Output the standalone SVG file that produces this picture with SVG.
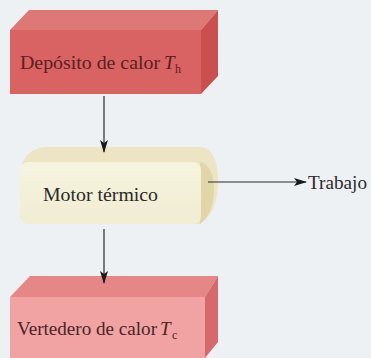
<svg xmlns="http://www.w3.org/2000/svg" width="371" height="358" viewBox="0 0 371 358">
<defs>
<style>
text{font-family:'Liberation Serif','DejaVu Serif','Times New Roman',serif;font-size:19px;}
.sub{font-size:12px;}
.conn{stroke:#2a2a2a;stroke-width:1.2;fill:none;}
</style>
<marker id="ah" markerWidth="13" markerHeight="8" refX="12" refY="4" orient="auto" markerUnits="userSpaceOnUse">
<path d="M0,0 L13,4 L0,8 L3,4 Z" fill="#1a1a1a"/>
</marker>
<linearGradient id="engFront" x1="0" y1="0" x2="0" y2="1">
<stop offset="0" stop-color="#f6f3df"/>
<stop offset="1" stop-color="#f1edd3"/>
</linearGradient>
</defs>
<rect width="371" height="358" fill="#eef1f4"/>
<g id="hot">
<polygon points="10,30 29,10 218,10 201,30" fill="#de7877"/>
<polygon points="201,30 218,10 218,76 201,94" fill="#c9504f"/>
<rect x="10" y="30" width="191" height="64" fill="#d86362"/>
<text x="20" y="69" fill="#5a2020" textLength="140" lengthAdjust="spacingAndGlyphs">Depósito de calor</text>
<text x="164" y="69" fill="#5a2020" font-style="italic">T</text>
<text class="sub" x="175" y="73" fill="#5a2020">h</text>
</g>
<g id="engine">
<path d="M20,176 Q21,150 45,147 L202,147 Q218,150 218,182 Q218,212 200,224 L30,224 Q20,222 20,212 Z" fill="#ece4c2"/>
<path d="M200,162 Q214,166 214,190 Q213,214 200,224 Z" fill="#e2d6a8"/>
<rect x="20" y="162" width="181" height="62" rx="8" fill="url(#engFront)"/>
<text x="43" y="201" fill="#2a2a2a" textLength="115" lengthAdjust="spacingAndGlyphs">Motor térmico</text>
</g>
<g id="work">
<text x="308" y="189" fill="#2a2a2a" textLength="59" lengthAdjust="spacingAndGlyphs">Trabajo</text>
</g>
<g id="cold">
<polygon points="10,297 30,276 218,276 205,297" fill="#e58687"/>
<polygon points="205,297 218,276 218,342 205,358" fill="#d5696b"/>
<rect x="10" y="297" width="195" height="61" fill="#f1a3a3"/>
<text x="17" y="335" fill="#4a2626" textLength="140" lengthAdjust="spacingAndGlyphs">Vertedero de calor</text>
<text x="160" y="335" fill="#4a2626" font-style="italic">T</text>
<text class="sub" x="172" y="339" fill="#4a2626">c</text>
</g>
<g id="connectors">
<line class="conn" x1="104" y1="96" x2="104" y2="152" marker-end="url(#ah)"/>
<line class="conn" x1="208" y1="182" x2="306" y2="182" marker-end="url(#ah)"/>
<line class="conn" x1="104" y1="229" x2="104" y2="283" marker-end="url(#ah)"/>
</g>
</svg>
